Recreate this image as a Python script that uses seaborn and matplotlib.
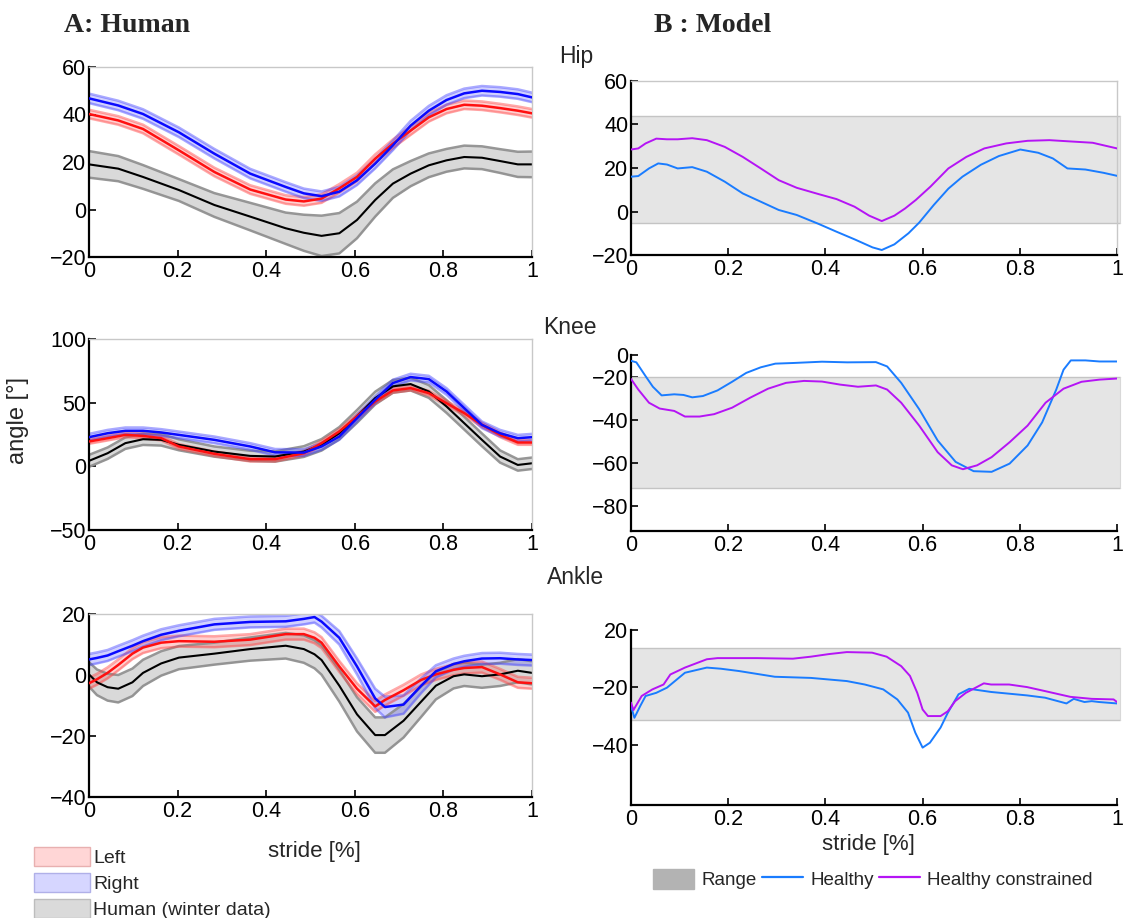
import numpy as np
import matplotlib
matplotlib.use("Agg")
import matplotlib.pyplot as plt
from matplotlib.patches import Patch
from matplotlib.lines import Line2D
import seaborn as sns

# ---------------- Human data (mean curves and spread) ----------------
hip_x = [0, 0.066, 0.122, 0.203, 0.283, 0.364, 0.444, 0.485, 0.525, 0.565, 0.605,
         0.646, 0.686, 0.726, 0.767, 0.807, 0.847, 0.887, 0.928, 0.968, 1.0]
hip_winter = [19, 17.2, 13.7, 8.2, 1.9, -3, -7.9, -9.8, -11.1, -10, -4.4,
              4, 10.9, 15.1, 18.6, 20.7, 22.1, 21.8, 20.4, 19, 19]
hip_winter_sd = [5.6, 5.3, 5, 4.6, 5, 5.8, 6.6, 7.6, 8.5, 8.5, 7.7,
                 7, 6, 5.3, 5, 4.8, 4.8, 4.8, 5, 5.3, 5.4]
hip_left = [40.2, 37.5, 33.9, 24.9, 15.8, 8.4, 4.2, 3.4, 4.6, 8.9, 13.7,
            21.4, 27.7, 33.2, 38.8, 42.3, 44.1, 43.7, 42.7, 41.6, 40.5]
hip_right = [46.8, 43.8, 40.2, 32.5, 23.5, 15.1, 9.5, 6.8, 5.6, 7.5, 12.3,
             19.3, 27, 35.3, 41.6, 46.1, 48.9, 50, 49.5, 48.6, 47.2]

knee_x = [0, 0.042, 0.082, 0.122, 0.163, 0.203, 0.283, 0.364, 0.42, 0.485, 0.525,
          0.565, 0.605, 0.646, 0.686, 0.726, 0.767, 0.807, 0.847, 0.887, 0.928, 0.968, 1.0]
knee_winter = [4.3, 10.3, 18.2, 21.3, 20.8, 16.9, 11.6, 8.2, 7.7, 11.6, 16.9,
               26, 39.2, 53.6, 62.8, 64.6, 58.8, 47, 33.9, 20.8, 7.7, 1.1, 2.4]
knee_winter_sd = [4.7, 4.5, 4.5, 4.5, 4.5, 4.3, 4, 4, 4, 4.2, 4.5,
                  4.8, 5, 5, 5, 5, 5, 5, 5, 5, 4.8, 4.5, 4.5]
knee_left = [19.5, 22.1, 24.7, 23.9, 22.1, 15.6, 9.8, 5.6, 5.6, 10.3, 18.2,
             27.4, 39.2, 51, 59.6, 61.4, 57.5, 49.6, 41.8, 32.6, 24.7, 18.7, 18.7]
knee_right = [22.9, 26, 27.9, 27.9, 26.6, 24.7, 20.8, 15.6, 11, 10.8, 15.6,
              23.4, 37.8, 52.3, 65.4, 70.1, 68.5, 58.8, 45.7, 32.6, 26, 22.1, 22.9]

ank_x = [0, 0.018, 0.042, 0.066, 0.098, 0.122, 0.163, 0.203, 0.283, 0.364, 0.444, 0.485,
         0.509, 0.525, 0.565, 0.605, 0.646, 0.668, 0.71, 0.75, 0.783, 0.823, 0.847, 0.887,
         0.928, 0.968, 1.0]
ank_winter = [0.2, -2.4, -4, -4.5, -2.4, 0.7, 3.8, 5.7, 7, 8.5, 9.6, 8.5,
              6.8, 4.9, -3.5, -12.9, -19.7, -19.7, -15, -8.7, -3.5, -0.4, 0.2, -0.4,
              0.2, 1.4, 0.7]
ank_winter_sd = [4, 4.2, 4.4, 4.5, 4.5, 4.3, 4, 3.8, 3.6, 3.8, 4.2, 4.5,
                 4.6, 4.8, 5.2, 5.6, 5.8, 5.8, 5.5, 5, 4.5, 4, 3.8, 3.8,
                 3.8, 3.8, 3.8]
ank_left = [-2.7, -1.4, 0.7, 3.3, 7, 9, 10.6, 11.1, 10.9, 11.6, 13.4, 13.4,
            12.2, 10.6, 2.8, -4.5, -10.3, -8.2, -5, -1.6, 0.2, 1.7, 2.3, 2.6,
            0.2, -2.4, -2.7]
ank_right = [5.1, 5.6, 6.4, 7.8, 9.6, 11.1, 13.2, 14.5, 16.6, 17.4, 17.6, 18.4,
             19.0, 17.5, 12.2, 2.8, -7.7, -10.5, -9.7, -3.5, 1.2, 3.6, 4.5, 5.4,
             5.5, 5.1, 4.9]
ank_right_sd = [1.8, 1.8, 1.8, 1.8, 1.8, 1.8, 1.8, 1.8, 1.8, 1.8, 1.8, 1.8,
                1.8, 1.9, 2.2, 2.6, 3.2, 3.4, 3.0, 2.4, 2.0, 1.8, 1.8, 1.8,
                1.8, 1.8, 1.8]
LEFT_SD = 1.8
RIGHT_SD = 2.0
KNEE_RIGHT_SD = 2.6

# ---------------- Model data ----------------
m_hip_range = (-5.3, 43.8)
m_hip_healthy_x = [0, 0.015, 0.037, 0.056, 0.074, 0.096, 0.126, 0.156, 0.193, 0.23, 0.267,
                   0.304, 0.341, 0.386, 0.423, 0.46, 0.497, 0.516, 0.542, 0.571, 0.593,
                   0.623, 0.653, 0.682, 0.72, 0.757, 0.801, 0.838, 0.868, 0.898, 0.935,
                   0.972, 1.0]
m_hip_healthy = [16, 16.3, 19.8, 22.1, 21.6, 19.8, 20.4, 18.3, 13.7, 8.3, 4.5,
                 0.7, -1.6, -5.7, -9.3, -12.8, -16.5, -17.7, -15.1, -10, -5.1,
                 3, 10.5, 16, 21.5, 25.5, 28.5, 27, 24.4, 19.8, 19.3,
                 17.8, 16.4]
m_hip_constr_x = [0, 0.015, 0.03, 0.052, 0.074, 0.096, 0.126, 0.156, 0.193, 0.23, 0.267,
                  0.304, 0.341, 0.386, 0.423, 0.46, 0.49, 0.516, 0.542, 0.564, 0.586,
                  0.616, 0.653, 0.69, 0.727, 0.772, 0.816, 0.861, 0.905, 0.95, 1.0]
m_hip_constr = [28.5, 29, 31.3, 33.5, 33.2, 33.2, 33.7, 32.8, 29.7, 25.1, 19.8,
                14.4, 10.9, 8, 5.7, 2.2, -1.9, -4.4, -1.9, 1.4, 5.3,
                11.4, 19.8, 25.1, 29, 31.3, 32.5, 32.8, 32.2, 31.6, 29]

m_knee_range = (-71.4, -20)
m_knee_healthy_x = [0, 0.011, 0.03, 0.045, 0.063, 0.089, 0.108, 0.126, 0.148, 0.178, 0.208,
                    0.237, 0.267, 0.297, 0.334, 0.393, 0.445, 0.504, 0.527, 0.556, 0.593,
                    0.631, 0.668, 0.705, 0.742, 0.779, 0.816, 0.846, 0.875, 0.89, 0.905,
                    0.935, 0.964, 1.0]
m_knee_healthy = [-12.7, -13.4, -19.8, -24.7, -28.7, -28.2, -28.5, -29.6, -29, -26.4, -22.4,
                  -18.3, -15.7, -14, -13.7, -13.1, -13.4, -13.3, -15.3, -22.9, -35.1,
                  -49.6, -59.5, -63.8, -64.1, -60.3, -51.9, -41.2, -26, -16.8, -12.5,
                  -12.5, -13, -13]
m_knee_constr_x = [0, 0.015, 0.037, 0.059, 0.089, 0.111, 0.141, 0.171, 0.208, 0.245, 0.282,
                   0.319, 0.356, 0.393, 0.43, 0.467, 0.504, 0.527, 0.556, 0.593, 0.631,
                   0.66, 0.683, 0.712, 0.742, 0.779, 0.816, 0.853, 0.89, 0.927, 0.964, 1.0]
m_knee_constr = [-21.1, -26, -32.1, -34.8, -35.9, -38.5, -38.5, -37.4, -34.4, -29.8, -25.6,
                 -22.9, -22, -22.3, -23.7, -24.7, -24.1, -26, -32.1, -42.7, -55,
                 -61.1, -62.9, -61.1, -57.3, -50.4, -42.7, -32.1, -25.6, -22.4, -21.4, -20.9]

m_ank_range = (-31.2, -6.2)
m_ank_healthy_x = [0, 0.007, 0.019, 0.03, 0.052, 0.074, 0.111, 0.156, 0.185, 0.222, 0.296,
                   0.37, 0.444, 0.481, 0.519, 0.548, 0.57, 0.585, 0.6, 0.615, 0.637,
                   0.652, 0.674, 0.696, 0.741, 0.778, 0.815, 0.852, 0.896, 0.911, 0.933,
                   0.948, 0.963, 1.0]
m_ank_healthy = [-26.5, -30.6, -26.5, -23, -21.9, -20.1, -14.9, -13.1, -13.5, -14.3, -16.3,
                 -16.7, -17.8, -19, -20.7, -24.2, -28.8, -35.8, -41, -39.3, -34,
                 -28.8, -22.4, -20.5, -21.6, -22.2, -22.8, -23.6, -25.6, -24, -25.1,
                 -24.8, -25.1, -25.6]
m_ank_constr_x = [0, 0.005, 0.022, 0.044, 0.067, 0.081, 0.111, 0.156, 0.178, 0.259, 0.333,
                  0.37, 0.407, 0.444, 0.496, 0.526, 0.556, 0.574, 0.589, 0.6, 0.611,
                  0.637, 0.652, 0.667, 0.689, 0.726, 0.741, 0.778, 0.815, 0.852, 0.904,
                  0.948, 0.993, 1.0]
m_ank_constr = [-25.3, -27.9, -23, -20.7, -19, -15.5, -13.1, -10.2, -9.8, -9.8, -10,
                -9.3, -8.4, -7.7, -7.9, -9.3, -12.6, -16, -21.9, -27.7, -30,
                -30, -28.3, -24.8, -21.9, -18.6, -19, -19, -19.9, -21.3, -23.3,
                -24, -24.2, -25.1]

# Axis ticks
x_ticks = [0, 0.2, 0.4, 0.6, 0.8, 1.0]
x_ticklabels = ["0", "0.2", "0.4", "0.6", "0.8", "1"]
hip_yticks = [60, 40, 20, 0, -20]
knee_yticks = [100, 50, 0, -50]
ank_yticks = [20, 0, -20, -40]
m_knee_yticks = [-10, -20, -40, -60, -80]
m_knee_yticklabels = ["0", "\u221220", "\u221240", "\u221260", "\u221280"]
m_ank_yticks = [0, -20, -40]
m_ank_yticklabels = ["20", "\u221220", "\u221240"]

# ---------------- Style ----------------
sns.set_style("ticks")
plt.rcParams["font.family"] = ["Liberation Sans", "DejaVu Sans"]
plt.rcParams["axes.unicode_minus"] = True

W, H = 1125, 918
fig = plt.figure(figsize=(W / 100, H / 100), dpi=100)


def box(l, t, r, b):
    return [l / W, 1 - b / H, (r - l) / W, (b - t) / H]


RED, BLUE = "#ff1010", "#0a0aff"
BLUE_M, MAG_M = "#1a7cff", "#b514f5"
LIGHT_SPINE = "#c8c8c8"
TICK_FS = 15.5


def style_axes(ax, ylim, yticks, yticklabels=None, frame=True):
    ax.set_xlim(0, 1)
    ax.set_ylim(*ylim)
    ax.set_xticks(x_ticks)
    ax.set_xticklabels(x_ticklabels)
    ax.set_yticks(yticks)
    if yticklabels is not None:
        ax.set_yticklabels(yticklabels)
    ax.tick_params(direction="in", length=5, width=1.2, labelsize=TICK_FS,
                   colors="black", pad=2)
    ax.tick_params(axis="x", pad=3)
    for s in ("left", "bottom"):
        ax.spines[s].set_color("black")
        ax.spines[s].set_linewidth(1.6)
    for s in ("top", "right"):
        if frame:
            ax.spines[s].set_visible(True)
            ax.spines[s].set_color(LIGHT_SPINE)
            ax.spines[s].set_linewidth(1.0)
        else:
            ax.spines[s].set_visible(False)
    ax.set_xlabel("")
    ax.set_ylabel("")
    ax.set_facecolor("white")


def band(ax, x, y, sd, fill, edge, alpha_fill, alpha_edge):
    x = np.asarray(x)
    y = np.asarray(y, dtype=float)
    sd = np.broadcast_to(np.asarray(sd, dtype=float), y.shape)
    ax.fill_between(x, y - sd, y + sd, color=fill, alpha=alpha_fill, lw=0, zorder=1)
    ax.plot(x, y + sd, color=edge, alpha=alpha_edge, lw=1.8, zorder=1.5)
    ax.plot(x, y - sd, color=edge, alpha=alpha_edge, lw=1.8, zorder=1.5)


def human_panel(ax, x, winter, winter_sd, left, left_sd, right, right_sd):
    band(ax, x, winter, winter_sd, "#d9d9d9", "#8c8c8c", 1.0, 0.9)
    sns.lineplot(x=x, y=winter, ax=ax, color="black", lw=1.5, zorder=2)
    band(ax, x, left, left_sd, "#ff0000", "#ff4040", 0.18, 0.45)
    sns.lineplot(x=x, y=left, ax=ax, color=RED, lw=1.8, zorder=3)
    band(ax, x, right, right_sd, "#0000ff", "#4040ff", 0.18, 0.45)
    sns.lineplot(x=x, y=right, ax=ax, color=BLUE, lw=1.8, zorder=4)


def model_panel(ax, rng, hx, hy, cx, cy):
    lo, hi = rng
    ax.fill_between([0, 1.006], [lo, lo], [hi, hi], color="#e5e5e5", lw=0,
                    zorder=0.5, clip_on=False)
    for v in (lo, hi):
        ax.plot([0, 1.006], [v, v], color="#c4c4c4", lw=1.0, zorder=0.6, clip_on=False)
    ax.plot([1.006, 1.006], [lo, hi], color="#d8d8d8", lw=0.8, zorder=0.6, clip_on=False)
    sns.lineplot(x=hx, y=hy, ax=ax, color=BLUE_M, lw=1.4, zorder=3)
    sns.lineplot(x=cx, y=cy, ax=ax, color=MAG_M, lw=1.4, zorder=3)


# Human column
ax_h1 = fig.add_axes(box(89, 67, 532, 257))
human_panel(ax_h1, hip_x, hip_winter, hip_winter_sd, hip_left, LEFT_SD, hip_right, RIGHT_SD)
style_axes(ax_h1, (-20, 60), hip_yticks)

ax_h2 = fig.add_axes(box(89, 339, 532, 530))
human_panel(ax_h2, knee_x, knee_winter, knee_winter_sd, knee_left, LEFT_SD,
            knee_right, KNEE_RIGHT_SD)
style_axes(ax_h2, (-50, 100), knee_yticks)
ax_h2.set_ylabel("angle [\u00b0]", fontsize=17)
ax_h2.yaxis.set_label_coords(-60 / 443, (530 - 420) / 191)

ax_h3 = fig.add_axes(box(89, 614, 532, 797))
human_panel(ax_h3, ank_x, ank_winter, ank_winter_sd, ank_left, LEFT_SD,
            ank_right, ank_right_sd)
style_axes(ax_h3, (-40, 20), ank_yticks)
ax_h3.set_xlabel("stride [%]", fontsize=16)
ax_h3.xaxis.set_label_coords((314 - 89) / 443, -(841 - 797) / 183)

# Model column
ax_m1 = fig.add_axes(box(631, 81, 1117, 255))
model_panel(ax_m1, m_hip_range, m_hip_healthy_x, m_hip_healthy, m_hip_constr_x, m_hip_constr)
style_axes(ax_m1, (-20, 60), hip_yticks)

ax_m2 = fig.add_axes(box(631, 355, 1117, 531))
model_panel(ax_m2, m_knee_range, m_knee_healthy_x, m_knee_healthy,
            m_knee_constr_x, m_knee_constr)
style_axes(ax_m2, (-91.5, -10), m_knee_yticks, m_knee_yticklabels, frame=False)

ax_m3 = fig.add_axes(box(631, 630, 1117, 805))
model_panel(ax_m3, m_ank_range, m_ank_healthy_x, m_ank_healthy,
            m_ank_constr_x, m_ank_constr)
style_axes(ax_m3, (-61, 0), m_ank_yticks, m_ank_yticklabels, frame=False)
ax_m3.set_xlabel("stride [%]", fontsize=16)
ax_m3.xaxis.set_label_coords((868 - 631) / 486, -(834 - 805) / 175)

# Headings
fig.text(64 / W, 1 - 26 / H, "A: Human", fontsize=20, fontweight="bold",
         family=["Liberation Serif", "DejaVu Serif"], ha="left", va="center")
fig.text(654 / W, 1 - 26 / H, "B : Model", fontsize=20, fontweight="bold",
         family=["Liberation Serif", "DejaVu Serif"], ha="left", va="center")
for label, cx, cy in (("Hip", 576, 57), ("Knee", 570, 328), ("Ankle", 576, 578)):
    fig.text(cx / W, 1 - cy / H, label, fontsize=16.5, ha="center", va="center")

# Legends
human_handles = [
    Patch(facecolor="#ffd6d6", edgecolor="#e8b0b0", lw=1.0, label="Left"),
    Patch(facecolor="#d6d6ff", edgecolor="#b0b0e8", lw=1.0, label="Right"),
    Patch(facecolor="#dadada", edgecolor="#bdbdbd", lw=1.0, label="Human (winter data)"),
]
fig.legend(handles=human_handles, loc="upper left",
           bbox_to_anchor=(34 / W, 1 - 847 / H), frameon=False, fontsize=14,
           handlelength=2.9, handleheight=1.15, labelspacing=0.3,
           handletextpad=0.15, borderpad=0.0, borderaxespad=0)

model_handles = [
    Patch(facecolor="#b3b3b3", edgecolor="#b3b3b3", label="Range"),
    Line2D([0], [0], color=BLUE_M, lw=1.6, label="Healthy"),
    Line2D([0], [0], color=MAG_M, lw=1.6, label="Healthy constrained"),
]
fig.legend(handles=model_handles, loc="center",
           bbox_to_anchor=(873 / W, 1 - 879 / H), frameon=False, fontsize=13.5,
           ncol=3, handlelength=2.2, handleheight=1.3, columnspacing=0.25,
           handletextpad=0.4, borderpad=0.2)

fig.savefig("out.png", dpi=100, facecolor="white")
